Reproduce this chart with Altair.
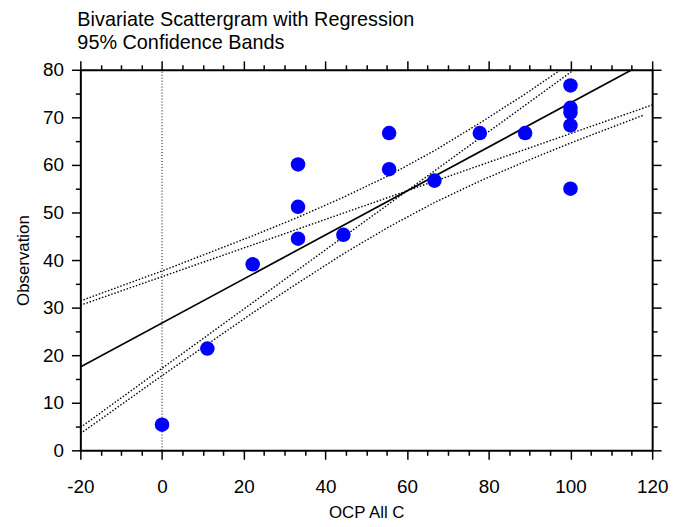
import altair as alt
import pandas as pd

obs_x = [0, 11.1, 22.2, 33.3, 33.3, 33.3, 44.4, 55.6, 55.6, 66.7, 77.8, 88.9, 100, 100, 100, 100, 100]
obs_y = [5.4, 21.4, 39.1, 60.1, 51.2, 44.5, 45.3, 66.7, 59.1, 56.7, 66.7, 66.7, 76.7, 72.0, 71.0, 68.3, 55.0]

# Regression line end points
reg_x = [-20, 120]
reg_y = [17.5, 82.3]

# 95% confidence band (read at the data x positions)
band_x = [-20, 0, 11.1, 22.2, 33.3, 44.4, 55.6, 66.7, 77.8, 88.9, 100, 118]
band_upper = [31.4, 37.7, 41.4, 45.1, 49.0, 53.2, 57.8, 63.0, 68.8, 74.9, 81.4, 92.2]
band_lower = [3.5, 15.7, 22.3, 28.9, 35.2, 41.3, 47.0, 52.1, 56.6, 60.7, 64.6, 70.5]

# Slope confidence lines through the centroid
slope_x = [-20, 120]
steep_y = [4.8, 91.9]
shallow_y = [30.5, 72.6]

x_ticks = list(range(-20, 121, 5))
y_ticks = list(range(0, 81, 5))

points = pd.DataFrame({"x": obs_x, "y": obs_y})
reg = pd.DataFrame({"x": reg_x, "y": reg_y})
dotted = pd.concat([
    pd.DataFrame({"x": band_x, "y": band_upper, "s": "upper"}),
    pd.DataFrame({"x": band_x, "y": band_lower, "s": "lower"}),
    pd.DataFrame({"x": slope_x, "y": steep_y, "s": "steep"}),
    pd.DataFrame({"x": slope_x, "y": shallow_y, "s": "shallow"}),
], ignore_index=True)
zero = pd.DataFrame({"x": [0], "y": [0], "y2": [80]})

FONT = "Liberation Sans"
xscale = alt.Scale(domain=[-20, 120], nice=False, zero=False)
yscale = alt.Scale(domain=[0, 80], nice=False, zero=False)

x_tick_size = {"condition": {"test": "datum.value % 20 === 0", "value": 9}, "value": 5}
y_tick_size = {"condition": {"test": "datum.value % 10 === 0", "value": 9}, "value": 5}

x_bottom = alt.Axis(orient="bottom", values=x_ticks, tickSize=x_tick_size,
                    labelExpr="datum.value % 20 === 0 ? '' + datum.value : ''",
                    labelPadding=19, title="OCP All C", titlePadding=8,
                    grid=False, labelFlush=False, labelOverlap=False)
y_left = alt.Axis(orient="left", values=y_ticks, tickSize=y_tick_size,
                  labelExpr="datum.value % 10 === 0 ? '' + datum.value : ''",
                  labelPadding=8, title="Observation", titlePadding=10,
                  grid=False, labelFlush=False, labelOverlap=False)
x_top = alt.Axis(orient="top", values=x_ticks, tickSize=x_tick_size,
                 labels=False, title=None, grid=False)
y_right = alt.Axis(orient="right", values=y_ticks, tickSize=y_tick_size,
                   labels=False, title=None, grid=False)

zero_rule = alt.Chart(zero).mark_rule(color="black", strokeWidth=1, strokeDash=[1, 2]).encode(
    x=alt.X("x:Q", scale=xscale, axis=None),
    y=alt.Y("y:Q", scale=yscale, axis=None),
    y2="y2:Q",
)

dotted_lines = alt.Chart(dotted).mark_line(
    color="black", strokeWidth=1.4, strokeDash=[1.5, 1.8], clip=True
).encode(
    x=alt.X("x:Q", scale=xscale, axis=None),
    y=alt.Y("y:Q", scale=yscale, axis=None),
    detail="s:N",
    order="x:Q",
)

reg_line = alt.Chart(reg).mark_line(color="black", strokeWidth=1.7, clip=True).encode(
    x=alt.X("x:Q", scale=xscale, axis=x_top),
    y=alt.Y("y:Q", scale=yscale, axis=y_right),
)

pts = alt.Chart(points).mark_circle(size=215, color="#0000ff", opacity=1).encode(
    x=alt.X("x:Q", scale=xscale, axis=x_bottom),
    y=alt.Y("y:Q", scale=yscale, axis=y_left),
)

chart = alt.layer(zero_rule, dotted_lines, reg_line, pts).resolve_axis(
    x="independent", y="independent"
).properties(
    width=577,
    height=384,
    padding={"left": 6, "top": 0, "right": 2, "bottom": 2},
    title=alt.TitleParams(
        text=["Bivariate Scattergram with Regression", "95% Confidence Bands"],
        anchor="start", frame="group", font=FONT, fontSize=20, fontWeight="normal",
        color="black", lineHeight=23, offset=7, dx=-3,
    ),
).configure_view(stroke=None).configure_axis(
    domainColor="black", domainWidth=2, tickColor="black", tickWidth=1.5,
    labelFont=FONT, labelFontSize=19, labelColor="black",
    titleFont=FONT, titleFontSize=17, titleFontWeight="normal", titleColor="black",
)

chart.save("out.html", embed_options={"renderer": "svg", "actions": False})
